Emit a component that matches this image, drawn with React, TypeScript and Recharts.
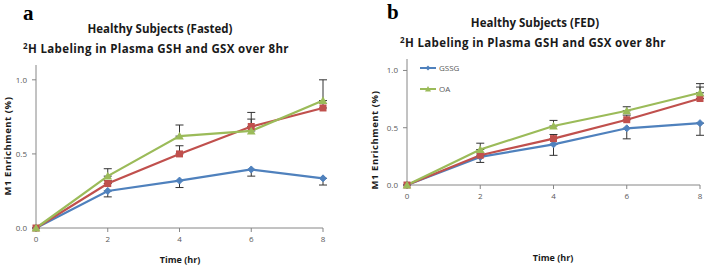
import React from 'react';
import { LineChart, Line, XAxis, YAxis, ErrorBar, Legend } from 'recharts';

const times = [0, 2, 4, 6, 8];
const yTicks = [0, 0.5, 1.0];
const xTicks = [0, 2, 4, 6, 8];

// Panel a: Fasted
const fastedGSSG = [0, 0.25, 0.32, 0.395, 0.335];
const fastedGSSGErr = [0, 0.04, 0.047, 0.045, 0.045];
const fastedGSH = [0, 0.3, 0.5, 0.685, 0.81];
const fastedGSHErr = [0, 0.02, 0.055, 0.05, 0.03];
const fastedOA = [0, 0.35, 0.62, 0.655, 0.86];
const fastedOAErr = [0, 0.05, 0.075, 0.125, 0.14];

// Panel b: Fed
const fedGSSG = [0, 0.245, 0.355, 0.495, 0.54];
const fedGSSGErr = [0, 0.048, 0.096, 0.092, 0.106];
const fedGSH = [0, 0.26, 0.405, 0.57, 0.755];
const fedGSHErr = [0, 0.02, 0.036, 0.04, 0.1];
const fedOA = [0, 0.31, 0.515, 0.648, 0.805];
const fedOAErr = [0, 0.055, 0.049, 0.035, 0.08];

const legendItems = ['GSSG', 'OA'];

const BLUE = '#4F81BD';
const RED = '#C0504D';
const GREEN = '#9BBB59';
const AXIS = '#868686';
const TICK = '#595959';
const FONT = '"Open Sans", "Noto Sans", sans-serif';

function build(g: number[], ge: number[], h: number[], he: number[], o: number[], oe: number[]) {
  return times.map((t, i) => ({
    t,
    gssg: g[i],
    gssgErr: [ge[i], 0],
    gsh: h[i],
    gshErr: [0, he[i]],
    oa: o[i],
    oaErr: [0, oe[i]],
  }));
}

const Diamond = (p: any) => {
  const { cx, cy } = p;
  if (cx == null || cy == null) return null;
  const s = 3.5;
  return <polygon points={`${cx},${cy - s} ${cx + s},${cy} ${cx},${cy + s} ${cx - s},${cy}`} fill={BLUE} stroke={BLUE} />;
};
const Square = (p: any) => {
  const { cx, cy } = p;
  if (cx == null || cy == null) return null;
  return <rect x={cx - 3.5} y={cy - 3.5} width={7} height={7} fill={RED} />;
};
const Triangle = (p: any) => {
  const { cx, cy } = p;
  if (cx == null || cy == null) return null;
  const s = 4.3;
  return <polygon points={`${cx},${cy - s} ${cx + s},${cy + s * 0.8} ${cx - s},${cy + s * 0.8}`} fill={GREEN} />;
};

const renderLegend = () => (
  <svg width={60} height={40} style={{ display: 'block' }}>
    {legendItems.map((name, i) => {
      const y = 6 + i * 21;
      const color = name === 'GSSG' ? BLUE : GREEN;
      return (
        <g key={name}>
          <line x1={0} x2={16} y1={y} y2={y} stroke={color} strokeWidth={2} />
          {name === 'GSSG' ? (
            <polygon points={`8,${y - 2.5} 10.5,${y} 8,${y + 2.5} 5.5,${y}`} fill={color} />
          ) : (
            <polygon points={`8,${y - 3} 11,${y + 2.4} 5,${y + 2.4}`} fill={color} />
          )}
          <text x={19} y={y + 3} fontSize={8} fill={TICK} fontFamily={FONT}>{name}</text>
        </g>
      );
    })}
  </svg>
);

function Panel(props: { data: any[]; width: number; margin: any; yWidth: number; legend?: boolean }) {
  const { data, width, margin, yWidth, legend } = props;
  const tickStyle = { fontSize: 8, fill: TICK, fontFamily: FONT };
  return (
    <LineChart width={width} height={266} data={data} margin={margin}>
      <XAxis
        dataKey="t"
        type="number"
        domain={[0, 8]}
        ticks={xTicks}
        tick={tickStyle}
        tickSize={4}
        tickMargin={4}
        stroke={AXIS}
        height={20}
        interval={0}
      />
      <YAxis
        type="number"
        domain={[0, 1.1]}
        ticks={yTicks}
        tickFormatter={(v: number) => v.toFixed(1)}
        tick={tickStyle}
        tickSize={4}
        tickMargin={5}
        stroke={AXIS}
        width={yWidth}
        interval={0}
      />
      {legend && (
        <Legend content={renderLegend} layout="vertical" wrapperStyle={{ left: 65, top: 62, width: 60 }} />
      )}
      <Line dataKey="gssg" stroke={BLUE} strokeWidth={2.2} dot={<Diamond />} isAnimationActive={false}>
        <ErrorBar dataKey="gssgErr" width={4} stroke="#333" strokeWidth={1} direction="y" />
      </Line>
      <Line dataKey="gsh" stroke={RED} strokeWidth={2.2} dot={<Square />} isAnimationActive={false}>
        <ErrorBar dataKey="gshErr" width={4} stroke="#333" strokeWidth={1} direction="y" />
      </Line>
      <Line dataKey="oa" stroke={GREEN} strokeWidth={2.2} dot={<Triangle />} isAnimationActive={false}>
        <ErrorBar dataKey="oaErr" width={4} stroke="#333" strokeWidth={1} direction="y" />
      </Line>
    </LineChart>
  );
}

const titleStyle: React.CSSProperties = {
  position: 'absolute',
  fontFamily: FONT,
  fontWeight: 700,
  fontSize: 11.5,
  color: '#1a1a1a',
  textAlign: 'center',
  whiteSpace: 'nowrap',
  lineHeight: '14px',
};
const letterStyle: React.CSSProperties = {
  position: 'absolute',
  fontFamily: '"Liberation Serif", "DejaVu Serif", serif',
  fontWeight: 700,
  fontSize: 21,
  color: '#000',
  lineHeight: '21px',
};
const axisTitle: React.CSSProperties = {
  position: 'absolute',
  fontFamily: FONT,
  fontWeight: 700,
  fontSize: 9,
  color: '#1a1a1a',
  whiteSpace: 'nowrap',
  lineHeight: '12px',
  textAlign: 'center',
};
const yTitle: React.CSSProperties = {
  ...axisTitle,
  fontSize: 9.5,
  letterSpacing: '0.55px',
  width: 120,
  transform: 'rotate(-90deg)',
};

export default function App() {
  const fasted = build(fastedGSSG, fastedGSSGErr, fastedGSH, fastedGSHErr, fastedOA, fastedOAErr);
  const fed = build(fedGSSG, fedGSSGErr, fedGSH, fedGSHErr, fedOA, fedOAErr);
  return (
    <div style={{ position: 'absolute', left: 0, top: 0, width: 705, height: 266, background: '#fff', overflow: 'hidden' }}>
      <div style={{ position: 'absolute', left: 0, top: 0 }}>
        <Panel data={fasted} width={340} yWidth={36} margin={{ top: 65, right: 17, bottom: 18, left: 0 }} />
      </div>
      <div style={{ position: 'absolute', left: 355, top: 0 }}>
        <Panel data={fed} width={350} yWidth={52} margin={{ top: 59, right: 5, bottom: 21, left: 0 }} legend />
      </div>

      <div style={{ ...letterStyle, left: 23, top: 3 }}>a</div>
      <div style={{ ...letterStyle, left: 387, top: 2 }}>b</div>

      <div style={{ ...titleStyle, left: 60, width: 200, top: 22 }}>Healthy Subjects (Fasted)</div>
      <div style={{ ...titleStyle, left: 6, width: 300, top: 39, letterSpacing: '0.35px' }}>
        <sup style={{ fontSize: 8, verticalAlign: '4px' }}>2</sup>H Labeling in Plasma GSH and GSX over 8hr
      </div>
      <div style={{ ...titleStyle, left: 435, width: 200, top: 16 }}>Healthy Subjects (FED)</div>
      <div style={{ ...titleStyle, left: 383, width: 300, top: 33, letterSpacing: '0.35px' }}>
        <sup style={{ fontSize: 8, verticalAlign: '4px' }}>2</sup>H Labeling in Plasma GSH and GSX over 8hr
      </div>

      <div style={{ ...axisTitle, left: 130, width: 100, top: 254 }}>Time (hr)</div>
      <div style={{ ...axisTitle, left: 503, width: 100, top: 252 }}>Time (hr)</div>

      <div style={{ ...yTitle, left: 7.5 - 60, top: 146 - 6 }}>M1 Enrichment (%)</div>
      <div style={{ ...yTitle, left: 375 - 60, top: 140 - 6 }}>M1 Enrichment (%)</div>
    </div>
  );
}
